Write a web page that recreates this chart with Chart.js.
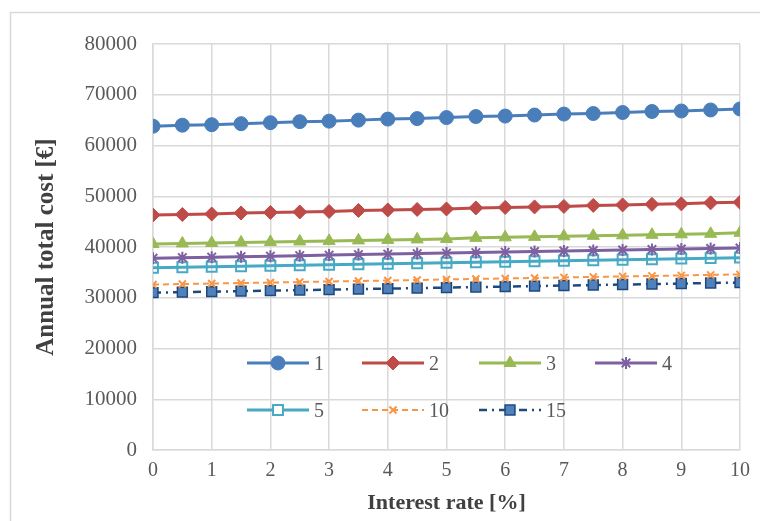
<!DOCTYPE html>
<html>
<head>
<meta charset="utf-8">
<script src="https://cdn.jsdelivr.net/npm/chart.js@4/dist/chart.umd.min.js"></script>
<style>
html,body{margin:0;padding:0;background:#fff;}
#wrap{width:760px;height:521px;position:relative;}
</style>
</head>
<body>
<div id="wrap"><canvas id="c" width="760" height="521"></canvas></div>
<script>
const rates = [0,0.5,1,1.5,2,2.5,3,3.5,4,4.5,5,5.5,6,6.5,7,7.5,8,8.5,9,9.5,10];
const labels = ['1','2','3','4','5','10','15'];
const s1  = [63800,64000,64100,64300,64500,64700,64800,65000,65200,65300,65500,65700,65800,66000,66200,66300,66500,66700,66800,67000,67200];
const s2  = [46300,46400,46500,46700,46800,46900,47000,47200,47300,47400,47500,47700,47800,47900,48000,48200,48300,48400,48500,48700,48800];
const s3  = [40600,40700,40800,40900,41000,41100,41200,41300,41400,41500,41600,41800,41900,42000,42100,42200,42300,42400,42500,42600,42800];
const s4  = [37800,37900,38000,38100,38200,38300,38400,38500,38600,38700,38800,38900,39000,39100,39200,39300,39400,39500,39600,39700,39800];
const s5  = [35900,36000,36100,36200,36300,36400,36500,36600,36700,36800,36900,37000,37100,37200,37300,37400,37500,37600,37700,37800,37900];
const s10 = [32600,32700,32800,32900,33000,33100,33200,33300,33400,33500,33600,33700,33800,33900,34000,34100,34200,34300,34400,34500,34600];
const s15 = [31000,31100,31200,31300,31400,31500,31600,31700,31800,31900,32000,32100,32200,32300,32400,32500,32600,32700,32800,32900,33000];
const yTicks = [0,10000,20000,30000,40000,50000,60000,70000,80000];

const pts = arr => arr.map((v,i)=>({x:rates[i], y:v}));

const datasets = [
  {label:labels[0], data:pts(s1), borderColor:'#4A7EBB', backgroundColor:'#4A7EBB', borderWidth:3, pointStyle:'circle', pointRadius:7, pointBorderWidth:1},
  {label:labels[1], data:pts(s2), borderColor:'#BE4B48', backgroundColor:'#BE4B48', borderWidth:3, pointStyle:'rectRot', pointRadius:7, pointBorderWidth:1},
  {label:labels[2], data:pts(s3), borderColor:'#98B954', backgroundColor:'#98B954', borderWidth:3, pointStyle:'triangle', pointRadius:7, pointBorderWidth:1},
  {label:labels[3], data:pts(s4), borderColor:'#7D60A0', backgroundColor:'#7D60A0', borderWidth:3, pointStyle:'star', pointRadius:6, pointBorderWidth:2},
  {label:labels[4], data:pts(s5), borderColor:'#46AAC5', backgroundColor:'rgba(255,255,255,0)', borderWidth:3, pointStyle:'rect', pointRadius:7, pointBorderWidth:2},
  {label:labels[5], data:pts(s10), borderColor:'#F79646', backgroundColor:'#F79646', borderWidth:2, borderDash:[6,4], pointStyle:'crossRot', pointRadius:5, pointBorderWidth:2},
  {label:labels[6], data:pts(s15), borderColor:'#1F497D', backgroundColor:'#4F81BD', pointBorderColor:'#1F497D', borderWidth:2.5, borderDash:[8,5,2,5], pointStyle:'rect', pointRadius:7, pointBorderWidth:1.5}
];

const frame = {
  id:'frame',
  beforeDraw(chart){
    const ctx = chart.ctx;
    ctx.save();
    ctx.fillStyle='#fff';
    ctx.fillRect(0,0,chart.width,chart.height);
    ctx.strokeStyle='#D9D9D9';
    ctx.lineWidth=1.5;
    ctx.strokeRect(10.5,12.5,chart.width+10,chart.height+10);
    ctx.restore();
  }
};

const inLegend = {
  id:'inLegend',
  afterDatasetsDraw(chart){
    const ctx = chart.ctx;
    const pos = [[247,363],[362,363],[479,363],[595,363],[247,410],[362,410],[479,410]];
    ctx.save();
    chart.data.datasets.forEach((ds,i)=>{
      const [x,y] = pos[i];
      ctx.save();
      ctx.strokeStyle = ds.borderColor;
      ctx.lineWidth = ds.borderWidth;
      ctx.setLineDash(ds.borderDash || []);
      ctx.beginPath(); ctx.moveTo(x,y); ctx.lineTo(x+62,y); ctx.stroke();
      ctx.restore();
      ctx.save();
      ctx.fillStyle = ds.backgroundColor;
      ctx.strokeStyle = ds.pointBorderColor || ds.borderColor;
      ctx.lineWidth = ds.pointBorderWidth;
      if (ds.label==='5'){ ctx.fillStyle='#fff'; }
      Chart.helpers.drawPoint(ctx, {pointStyle:ds.pointStyle, radius:ds.pointRadius, borderWidth:ds.pointBorderWidth, rotation:0}, x+31, y);
      ctx.restore();
      ctx.fillStyle='#595959';
      ctx.font='20px "Liberation Serif", "Times New Roman", serif';
      ctx.textBaseline='middle';
      ctx.fillText(ds.label, x+67, y+2);
    });
    ctx.restore();
  }
};

new Chart(document.getElementById('c'), {
  type:'line',
  data:{datasets},
  options:{
    responsive:false,
    animation:false,
    layout:{padding:{left:10, top:44, right:20, bottom:0}},
    plugins:{legend:{display:false}, tooltip:{enabled:false}},
    elements:{line:{tension:0}},
    scales:{
      x:{
        type:'linear', min:0, max:10,
        afterFit(scale){ scale.height = 71; },
        ticks:{stepSize:1, color:'#595959', padding:9, font:{family:'"Liberation Serif", serif', size:20}},
        grid:{color:'#D9D9D9', lineWidth:1.5, drawTicks:false},
        border:{color:'#D9D9D9', width:1.5},
        title:{display:true, text:'Interest rate [%]', color:'#404040', padding:{top:4,bottom:4}, font:{family:'"Liberation Serif", serif', size:22, weight:'bold'}}
      },
      y:{
        type:'linear', min:0, max:80000,
        afterBuildTicks(scale){ scale.ticks = yTicks.map(v=>({value:v})); },
        afterFit(scale){ scale.width = 143; },
        ticks:{color:'#595959', padding:16, font:{family:'"Liberation Serif", serif', size:21}, callback:(v)=>String(v)},
        grid:{color:'#D9D9D9', lineWidth:1.5, drawTicks:false},
        border:{color:'#D9D9D9', width:1.5},
        title:{display:true, text:'Annual total cost [€]', color:'#404040', padding:{top:22,bottom:0}, font:{family:'"Liberation Serif", serif', size:25, weight:'bold'}}
      }
    }
  },
  plugins:[frame, inLegend]
});
</script>
</body>
</html>
